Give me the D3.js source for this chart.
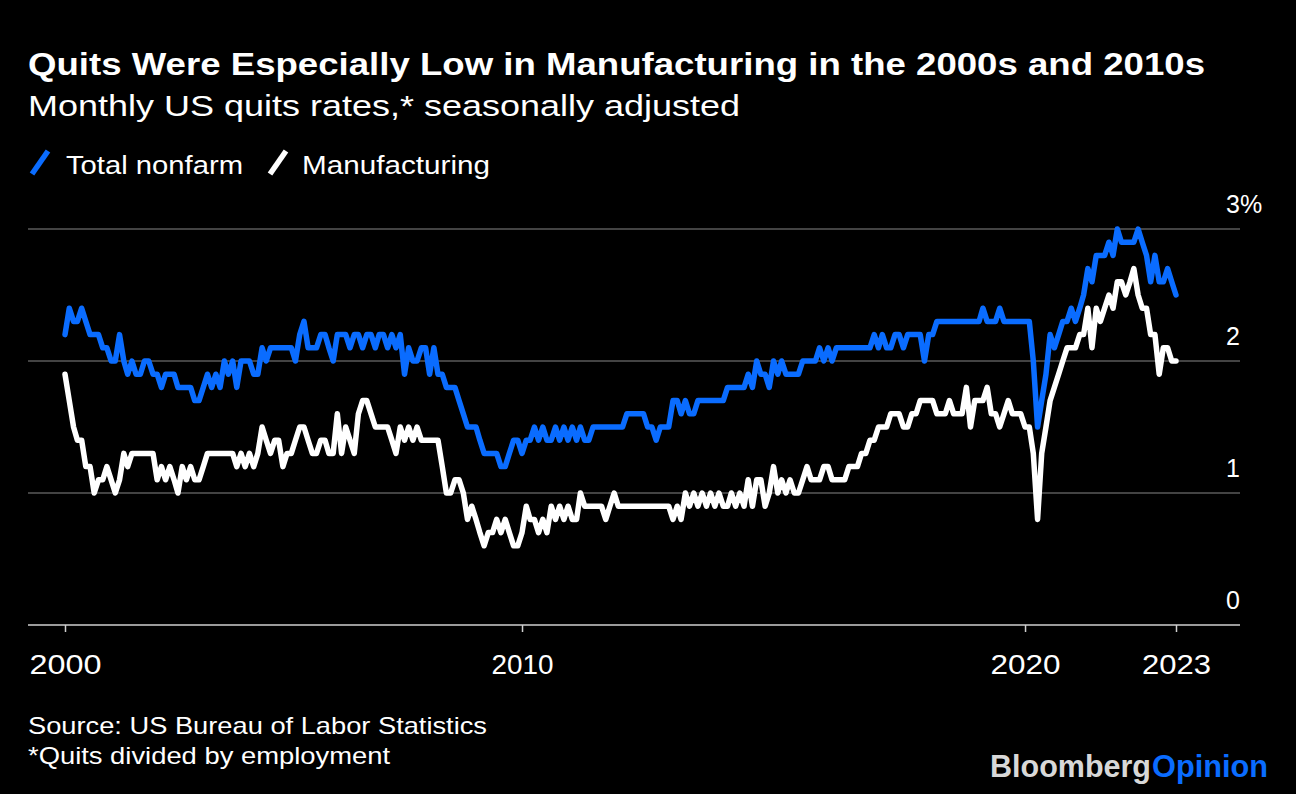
<!DOCTYPE html>
<html><head><meta charset="utf-8">
<script src="https://cdn.jsdelivr.net/npm/d3@7/dist/d3.min.js"></script>
<style>
html,body{margin:0;padding:0;background:#000;}
svg{display:block;}
text{font-family:"Liberation Sans",Arial,sans-serif;}
</style></head>
<body>
<svg id="chart" width="1296" height="794"></svg>
<script>
// ---- DATA ----
const startMonth = "2000-12";   // first observation (Dec 2000), monthly thereafter
// Total nonfarm quits rate (%), Dec 2000 .. Jan 2023
const totalNonfarm = [
  2.2,
  2.4,2.3,2.3,2.4,2.3,2.2,2.2,2.2,2.1,2.1,2.0,2.0, // 2001
  2.2,2.0,1.9,2.0,1.9,1.9,2.0,2.0,1.9,1.9,1.8,1.9, // 2002
  1.9,1.9,1.8,1.8,1.8,1.8,1.7,1.7,1.8,1.9,1.8,1.9, // 2003
  1.8,2.0,1.9,2.0,1.8,2.0,2.0,2.0,1.9,1.9,2.1,2.0, // 2004
  2.1,2.1,2.1,2.1,2.1,2.1,2.0,2.2,2.3,2.1,2.1,2.1, // 2005
  2.2,2.2,2.1,2.0,2.2,2.2,2.2,2.1,2.2,2.2,2.1,2.2, // 2006
  2.2,2.1,2.2,2.2,2.1,2.2,2.1,2.2,1.9,2.1,2.0,2.0, // 2007
  2.1,2.1,1.9,2.1,1.9,1.9,1.8,1.8,1.8,1.7,1.6,1.5, // 2008
  1.5,1.5,1.4,1.3,1.3,1.3,1.3,1.2,1.2,1.3,1.4,1.4, // 2009
  1.3,1.4,1.4,1.5,1.4,1.5,1.4,1.4,1.5,1.4,1.5,1.4, // 2010
  1.5,1.4,1.5,1.4,1.4,1.5,1.5,1.5,1.5,1.5,1.5,1.5, // 2011
  1.5,1.6,1.6,1.6,1.6,1.6,1.5,1.5,1.4,1.5,1.5,1.5, // 2012
  1.7,1.7,1.6,1.7,1.6,1.6,1.7,1.7,1.7,1.7,1.7,1.7, // 2013
  1.7,1.8,1.8,1.8,1.8,1.8,1.9,1.8,2.0,1.9,1.9,1.8, // 2014
  2.0,1.9,2.0,1.9,1.9,1.9,1.9,2.0,2.0,2.0,2.0,2.1, // 2015
  2.0,2.1,2.0,2.1,2.1,2.1,2.1,2.1,2.1,2.1,2.1,2.1, // 2016
  2.2,2.1,2.2,2.1,2.1,2.2,2.2,2.1,2.2,2.2,2.2,2.2, // 2017
  2.0,2.2,2.2,2.3,2.3,2.3,2.3,2.3,2.3,2.3,2.3,2.3, // 2018
  2.3,2.3,2.4,2.3,2.3,2.3,2.4,2.3,2.3,2.3,2.3,2.3, // 2019
  2.3,2.3,2.0,1.5,1.7,1.9,2.2,2.1,2.2,2.3,2.3,2.4, // 2020
  2.3,2.4,2.5,2.7,2.6,2.8,2.8,2.8,2.9,2.8,3.0,2.9, // 2021
  2.9,2.9,2.9,3.0,2.9,2.8,2.6,2.8,2.6,2.6,2.7,2.6, // 2022
  2.5                                              // 2023
];
// Manufacturing quits rate (%), Dec 2000 .. Jan 2023
const manufacturing = [
  1.9,
  1.7,1.5,1.4,1.4,1.2,1.2,1.0,1.1,1.1,1.2,1.1,1.0, // 2001
  1.1,1.3,1.2,1.3,1.3,1.3,1.3,1.3,1.3,1.1,1.2,1.1, // 2002
  1.2,1.1,1.0,1.2,1.1,1.2,1.1,1.1,1.2,1.3,1.3,1.3, // 2003
  1.3,1.3,1.3,1.3,1.2,1.3,1.2,1.3,1.2,1.3,1.5,1.4, // 2004
  1.3,1.4,1.4,1.2,1.3,1.3,1.4,1.5,1.5,1.4,1.3,1.3, // 2005
  1.4,1.4,1.3,1.3,1.6,1.3,1.5,1.4,1.3,1.6,1.7,1.7, // 2006
  1.6,1.5,1.5,1.5,1.5,1.4,1.3,1.5,1.4,1.5,1.4,1.5, // 2007
  1.4,1.4,1.4,1.4,1.4,1.2,1.0,1.0,1.1,1.1,1.0,0.8, // 2008
  0.9,0.8,0.7,0.6,0.7,0.7,0.8,0.7,0.8,0.7,0.6,0.6, // 2009
  0.7,0.9,0.8,0.8,0.7,0.8,0.7,0.9,0.8,0.9,0.8,0.9, // 2010
  0.8,0.8,1.0,0.9,0.9,0.9,0.9,0.9,0.8,0.9,1.0,0.9, // 2011
  0.9,0.9,0.9,0.9,0.9,0.9,0.9,0.9,0.9,0.9,0.9,0.9, // 2012
  0.8,0.9,0.8,1.0,0.9,1.0,0.9,1.0,0.9,1.0,0.9,1.0, // 2013
  0.9,0.9,1.0,0.9,1.0,0.9,1.1,0.9,1.1,1.1,0.9,1.0, // 2014
  1.2,1.0,1.1,1.0,1.1,1.0,1.0,1.1,1.2,1.1,1.1,1.1, // 2015
  1.2,1.2,1.1,1.1,1.1,1.1,1.2,1.2,1.2,1.3,1.3,1.4, // 2016
  1.4,1.5,1.5,1.5,1.6,1.6,1.6,1.5,1.5,1.6,1.6,1.7, // 2017
  1.7,1.7,1.7,1.6,1.6,1.6,1.7,1.6,1.6,1.6,1.8,1.5, // 2018
  1.7,1.7,1.7,1.8,1.6,1.6,1.5,1.6,1.7,1.6,1.6,1.6, // 2019
  1.5,1.5,1.3,0.8,1.3,1.5,1.7,1.8,1.9,2.0,2.1,2.1, // 2020
  2.1,2.2,2.2,2.4,2.1,2.4,2.3,2.4,2.5,2.4,2.6,2.6, // 2021
  2.5,2.6,2.7,2.5,2.4,2.4,2.2,2.2,1.9,2.1,2.1,2.0, // 2022
  2.0                                              // 2023
];
const seriesNames = ["Total nonfarm", "Manufacturing"];
const seriesColors = ["#0a6cff", "#ffffff"];
const xTickDates = ["2000-12", "2010-01", "2020-01", "2023-01"];
const xTickLabels = ["2000", "2010", "2020", "2023"];
const yTicks = [0, 1, 2, 3];
const yTickLabels = ["0", "1", "2", "3%"];

// ---- CHART ----
const W = 1296, H = 794;
const svg = d3.select("#chart");
svg.append("rect").attr("width", W).attr("height", H).attr("fill", "#000");

const parseM = d3.timeParse("%Y-%m");
const t0 = parseM(startMonth);
const dates = totalNonfarm.map((_, i) => d3.timeMonth.offset(t0, i));
const tickDates = xTickDates.map(parseM);

const x = d3.scaleTime().domain([t0, dates[dates.length - 1]]).range([65, 1176]);
const y = d3.scaleLinear().domain([0, 3]).range([625, 229]);

// gridlines
svg.append("g").selectAll("line").data(yTicks.filter(d => d > 0)).join("line")
  .attr("x1", 28).attr("x2", 1240)
  .attr("y1", d => y(d)).attr("y2", d => y(d))
  .attr("stroke", "#5a5a5a").attr("stroke-width", 1.5);

// y labels (left aligned, right side)
svg.append("g").selectAll("text").data(yTicks).join("text")
  .attr("x", 1226).attr("y", d => y(d) - 16)
  .attr("fill", "#fff").attr("font-size", 25)
  .text((d, i) => yTickLabels[i]);

// x axis
const xLabelLen = [72, 62, 70, 69];
const xAxis = d3.axisBottom(x).tickValues(tickDates)
  .tickFormat((d, i) => xTickLabels[i]).tickSize(7).tickSizeOuter(0);
const gx = svg.append("g").attr("transform", "translate(0,625)").call(xAxis);
gx.select(".domain").remove();
gx.selectAll(".tick line").attr("stroke", "#cfcfcf").attr("stroke-width", 1.5);
gx.selectAll(".tick text").attr("fill", "#fff").attr("font-size", 27)
  .attr("font-family", '"Liberation Sans",Arial,sans-serif').attr("dy", null).attr("y", 49)
  .attr("textLength", (d, i) => xLabelLen[i]).attr("lengthAdjust", "spacingAndGlyphs");
svg.append("line").attr("x1", 28).attr("x2", 1240).attr("y1", 625).attr("y2", 625)
  .attr("stroke", "#cfcfcf").attr("stroke-width", 1.5);

// lines
const line = d3.line().x((d, i) => x(dates[i])).y(d => y(d)).curve(d3.curveLinear);
[totalNonfarm, manufacturing].forEach((s, k) => {
  svg.append("path").datum(s).attr("d", line)
    .attr("fill", "none").attr("stroke", seriesColors[k])
    .attr("stroke-width", 5.5).attr("stroke-linejoin", "round").attr("stroke-linecap", "round");
});

// text helper
function txt(str, xx, yy, size, weight, fill, len) {
  const t = svg.append("text").attr("x", xx).attr("y", yy).attr("font-size", size)
    .attr("font-weight", weight).attr("fill", fill).text(str);
  if (len) t.attr("textLength", len).attr("lengthAdjust", "spacingAndGlyphs");
  return t;
}
txt("Quits Were Especially Low in Manufacturing in the 2000s and 2010s", 28, 75, 32, "bold", "#fff", 1177);
txt("Monthly US quits rates,* seasonally adjusted", 28, 116, 30, "normal", "#fff", 712);

// legend
const legX = [[32, 66], [270, 302]];
const legLen = [177, 188];
seriesNames.forEach((n, k) => {
  svg.append("line").attr("x1", legX[k][0]).attr("y1", 174).attr("x2", legX[k][0] + 16).attr("y2", 151)
    .attr("stroke", seriesColors[k]).attr("stroke-width", 5.5);
  txt(n, legX[k][1], 174, 26, "normal", "#fff", legLen[k]);
});

// footer
txt("Source: US Bureau of Labor Statistics", 28, 734, 24, "normal", "#fff", 459);
txt("*Quits divided by employment", 28, 764, 24, "normal", "#fff", 362);
txt("Bloomberg", 990, 777, 31, "bold", "#d8d8d8", 161);
txt("Opinion", 1152, 777, 31, "bold", "#0a6cff", 116);
</script>
</body></html>
